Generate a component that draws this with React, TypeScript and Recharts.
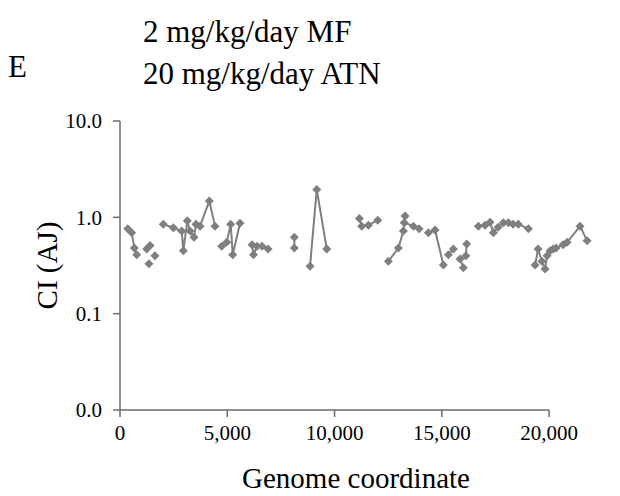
import { LineChart, Line, XAxis, YAxis, ReferenceLine } from "recharts";

// genome coordinate of each probe; a repeated coordinate with a null CI marks a break in the line
const coordinate = [
  360, 545, 670, 780, 780,
  1245, 1400, 1400,
  1350, 1350,
  1630, 1630,
  2020, 2485, 2876, 2951, 3138, 3263, 3450, 3543, 3730, 4163, 4429, 4429,
  4741, 4974, 5160, 5254, 5594, 5594,
  6154, 6224, 6387, 6620, 6900, 6900,
  8126, 8126, 8126,
  8858, 9170, 9636, 9636,
  11157, 11267, 11576, 12013, 12013,
  12508, 12975, 13208, 13287, 13250, 13675, 13940, 13940,
  14373, 14685, 15073, 15073,
  15306, 15540, 15540,
  15850, 16005, 16005,
  16160, 16120, 16120,
  16705, 17016, 17250, 17403, 17622, 17870, 18103, 18322, 18569, 19035, 19035,
  19347, 19487, 19660, 19813, 19907, 20047, 20187, 20327, 20653, 20840, 21445, 21772,
];

const ciAJ: (number | null)[] = [
  0.76, 0.69, 0.48, 0.41, null,
  0.47, 0.51, null,
  0.33, null,
  0.4, null,
  0.85, 0.78, 0.72, 0.45, 0.92, 0.72, 0.62, 0.85, 0.81, 1.48, 0.81, null,
  0.5, 0.55, 0.85, 0.41, 0.87, null,
  0.52, 0.41, 0.5, 0.5, 0.47, null,
  0.62, 0.48, null,
  0.31, 1.95, 0.47, null,
  0.97, 0.81, 0.83, 0.93, null,
  0.35, 0.48, 0.72, 1.03, 0.88, 0.81, 0.76, null,
  0.69, 0.74, 0.32, null,
  0.41, 0.47, null,
  0.37, 0.3, null,
  0.53, 0.4, null,
  0.81, 0.83, 0.89, 0.69, 0.79, 0.88, 0.88, 0.85, 0.85, 0.76, null,
  0.32, 0.47, 0.35, 0.29, 0.4, 0.45, 0.47, 0.48, 0.52, 0.55, 0.81, 0.57,
];

const xTicks = [0, 5000, 10000, 15000, 20000];
const yTicks = [0.01, 0.1, 1, 10];
const titleLines = ["2 mg/kg/day MF", "20 mg/kg/day ATN"];
const panelLetter = "E";

const data = coordinate.map((x, i) => ({ x, ci: ciAJ[i] }));

const GREY = "#7f7f7f";
const AXIS = "#6b6b6b";
const FONT = "'Liberation Serif', 'Times New Roman', serif";

// excel-style diamond marker
function Diamond(props: any) {
  const { cx, cy, index, payload } = props;
  if (payload?.ci == null || cx == null || cy == null) return <g key={`d-${index}`} />;
  const r = 4.5;
  return (
    <path
      key={`d-${index}`}
      d={`M${cx},${cy - r}L${cx + r},${cy}L${cx},${cy + r}L${cx - r},${cy}Z`}
      fill={GREY}
    />
  );
}

export default function App() {
  return (
    <div style={{ position: "absolute", left: 0, top: 0, width: 620, height: 496, background: "#fff" }}>
      <LineChart width={620} height={496} data={data} margin={{ top: 121, right: 28, bottom: 0, left: 0 }}>
        <XAxis
          dataKey="x"
          type="number"
          domain={[0, 22000]}
          ticks={xTicks}
          interval={0}
          height={86}
          axisLine={false}
          tickLine={{ stroke: AXIS, strokeWidth: 1.5 }}
          tickSize={7}
          tickMargin={8}
          tick={{ fontSize: 21, fill: "#000", fontFamily: FONT }}
          tickFormatter={(v) => Number(v).toLocaleString("en-US")}
          label={{
            value: "Genome coordinate",
            position: "insideBottom",
            offset: 8,
            fontSize: 29,
            fill: "#000",
            fontFamily: FONT,
          }}
        />
        <YAxis
          type="number"
          scale="log"
          domain={[0.01, 10]}
          ticks={yTicks}
          interval={0}
          width={120}
          axisLine={{ stroke: AXIS, strokeWidth: 1.5 }}
          tickLine={{ stroke: AXIS, strokeWidth: 1.5 }}
          tickSize={7}
          tickMargin={11}
          tick={{ fontSize: 21, fill: "#000", fontFamily: FONT }}
          tickFormatter={(v) => Number(v).toFixed(1)}
          label={{
            value: "CI (AJ)",
            angle: -90,
            position: "insideLeft",
            offset: 47,
            style: { textAnchor: "middle" },
            fontSize: 29,
            fill: "#000",
            fontFamily: FONT,
          }}
        />
        {/* x axis line stops at 20,000 while the data run past it */}
        <ReferenceLine
          segment={[
            { x: 0, y: 0.01 },
            { x: 20000, y: 0.01 },
          ]}
          stroke={AXIS}
          strokeWidth={1.5}
          ifOverflow="visible"
        />
        <Line
          dataKey="ci"
          stroke={GREY}
          strokeWidth={2}
          dot={Diamond}
          activeDot={false}
          connectNulls={false}
          isAnimationActive={false}
        />
      </LineChart>
      <svg
        width={620}
        height={110}
        style={{ position: "absolute", left: 0, top: 0, pointerEvents: "none" }}
        fontFamily={FONT}
      >
        <text x={8} y={77} fontSize={31} fill="#000">
          {panelLetter}
        </text>
        {titleLines.map((t, i) => (
          <text key={t} x={143} y={42 + i * 41.5} fontSize={31} fill="#000">
            {t}
          </text>
        ))}
      </svg>
    </div>
  );
}
